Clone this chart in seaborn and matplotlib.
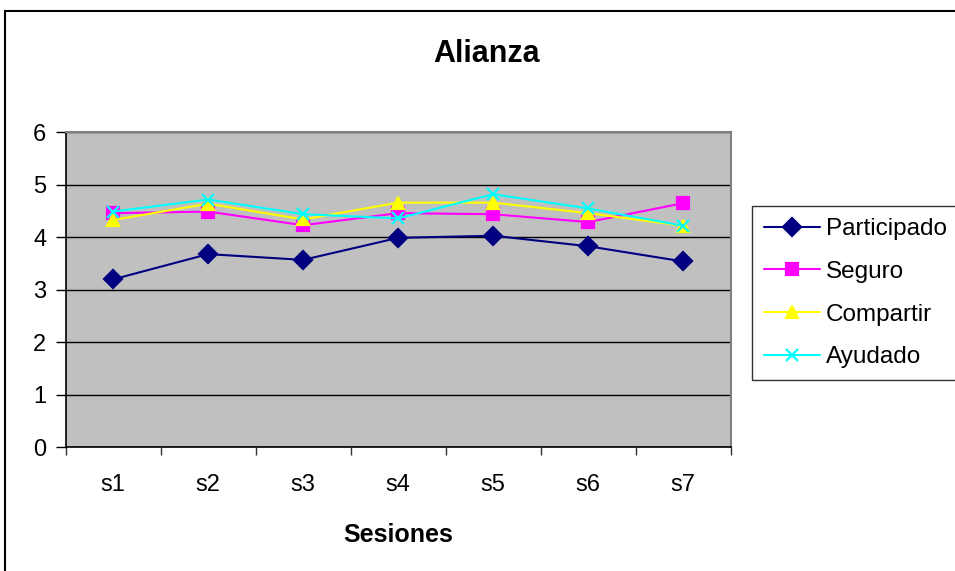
import matplotlib
matplotlib.use("Agg")
import matplotlib.pyplot as plt
import matplotlib.ticker as mticker
from matplotlib.patches import Rectangle
import pandas as pd
import seaborn as sns

sns.set_style("white")
plt.rcParams["font.family"] = ["Liberation Sans", "DejaVu Sans"]
plt.rcParams["text.color"] = "black"
plt.rcParams["axes.labelcolor"] = "black"

# ─── データ ───────────────────────────────────────────────
sesiones = ["s1", "s2", "s3", "s4", "s5", "s6", "s7"]
participado = [3.20, 3.68, 3.57, 3.99, 4.03, 3.83, 3.54]
seguro = [4.46, 4.49, 4.23, 4.46, 4.44, 4.29, 4.65]
compartir = [4.33, 4.64, 4.34, 4.66, 4.66, 4.46, 4.22]
ayudado = [4.49, 4.72, 4.44, 4.36, 4.82, 4.55, 4.22]

series = ["Participado", "Seguro", "Compartir", "Ayudado"]
colors = ["#000080", "#FF00FF", "#FFFF00", "#00FFFF"]
markers = ["D", "s", "^", "x"]

df = pd.DataFrame(
    {
        "sesion": sesiones * 4,
        "valor": participado + seguro + compartir + ayudado,
        "serie": [s for s in series for _ in sesiones],
    }
)

# ─── Figure ───────────────────────────────────────────────
fig = plt.figure(figsize=(9.55, 5.71), dpi=100, facecolor="white")
ax = fig.add_axes([0.0688, 0.2166, 0.6963, 0.5517])
ax.set_facecolor("#C0C0C0")

# una llamada por serie (marcadores rellenos y 'x' no se pueden mezclar)
for s, c, m in zip(series, colors, markers):
    sns.lineplot(
        data=df[df["serie"] == s],
        x="sesion",
        y="valor",
        color=c,
        marker=m,
        sort=False,
        linewidth=1.5,
        markersize=9,
        markeredgewidth=1.6,
        markeredgecolor=c,
        ax=ax,
    )

ax.set_xlim(-0.5, 6.5)
ax.set_ylim(0, 6)
ax.yaxis.set_major_locator(mticker.MultipleLocator(1))
ax.grid(axis="y", color="black", linewidth=1.0)
ax.set_axisbelow(True)

ax.xaxis.set_minor_locator(mticker.FixedLocator([i - 0.5 for i in range(8)]))
ax.tick_params(axis="x", which="major", length=0, pad=19, labelsize=17,
               labelcolor="black")
ax.tick_params(axis="x", which="minor", length=6, width=1, color="#333333",
               direction="out", bottom=True)
ax.tick_params(axis="y", length=7, width=1, color="black", direction="out",
               left=True, labelsize=17, pad=7, labelcolor="black")

for side in ["left", "bottom"]:
    ax.spines[side].set_color("black")
    ax.spines[side].set_linewidth(1.2)
for side in ["top", "right"]:
    ax.spines[side].set_visible(True)
    ax.spines[side].set_color("#808080")
    ax.spines[side].set_linewidth(1.5)

ax.set_xlabel("Sesiones", fontsize=18, fontweight="bold", labelpad=20)
ax.set_ylabel("")

fig.text(487 / 955, 1 - 54 / 571, "Alianza", ha="center", va="center",
         fontsize=22, fontweight="bold")

# leyenda
handles = [
    plt.Line2D([], [], color=c, marker=m, markersize=9, markeredgewidth=1.6,
               markeredgecolor=c, linewidth=1.5)
    for c, m in zip(colors, markers)
]
leg = fig.legend(
    handles,
    series,
    loc="upper left",
    bbox_to_anchor=(752 / 955, 1 - 206 / 571),
    frameon=True,
    fancybox=False,
    fontsize=17.5,
    handlelength=2.3,
    handletextpad=0.25,
    labelspacing=0.85,
    borderpad=0.5,
    borderaxespad=0,
)
leg.get_frame().set_edgecolor("black")
leg.get_frame().set_linewidth(1.0)

# marco exterior
fig.patches.append(
    Rectangle((4.5 / 955, -0.1), 1.2, 1.1 - 10.5 / 571, transform=fig.transFigure,
              fill=False, edgecolor="black", linewidth=1.5)
)

plt.savefig("out.png", dpi=100, facecolor="white")
